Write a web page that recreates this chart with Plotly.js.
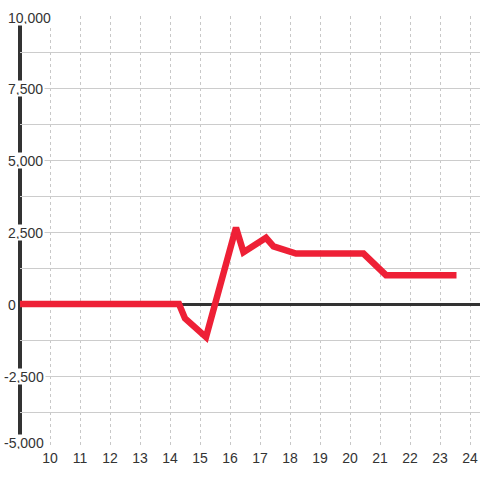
<!DOCTYPE html>
<html>
<head>
<meta charset="utf-8">
<script src="https://cdn.plot.ly/plotly-3.0.1.min.js"></script>
<style>
html,body{margin:0;padding:0;background:#fff;}
#chart{width:480px;height:480px;}
</style>
</head>
<body>
<div id="chart"></div>
<script>
// Data
var xValues = [9, 14.3, 14.5, 15.2, 16.2, 16.45, 17.2, 17.45, 18.2, 20.45, 21.2, 23.55];
var yValues = [0, 0, -500, -1150, 2650, 1800, 2300, 2000, 1750, 1750, 1000, 1000];
var xTicks = [10, 11, 12, 13, 14, 15, 16, 17, 18, 19, 20, 21, 22, 23, 24];
var yGrid = [-5000, -3750, -2500, -1250, 0, 1250, 2500, 3750, 5000, 6250, 7500, 8750, 10000];
var yLabelValues = [-5000, -2500, 0, 2500, 5000, 7500, 10000];
var yLabelTexts = ['-5,000', '-2,500', '0', '2,500', '5,000', '7,500', '10,000'];

var font = {family: 'Liberation Sans, Arial, sans-serif', size: 14, color: '#333'};

var annotations = yLabelValues.map(function (v, i) {
  return {
    xref: 'paper', yref: 'y', x: 0, y: v,
    text: yLabelTexts[i],
    showarrow: false,
    xanchor: 'left', yanchor: 'middle',
    xshift: v < 0 ? -18 : -14,
    yshift: v === -5000 ? 6 : (v === 10000 ? -1 : 0),
    bgcolor: '#ffffff',
    borderpad: 1,
    height: 13,
    font: font
  };
});

var trace = {
  x: xValues, y: yValues,
  type: 'scatter', mode: 'lines',
  line: {color: '#ee2036', width: 6.5},
  hoverinfo: 'skip'
};

var layout = {
  width: 480, height: 480,
  margin: {l: 20, r: 0, t: 16, b: 32, pad: 0},
  paper_bgcolor: '#ffffff',
  plot_bgcolor: '#ffffff',
  showlegend: false,
  font: font,
  xaxis: {
    range: [9, 24.3333],
    tickvals: xTicks,
    ticktext: xTicks.map(String),
    showgrid: true,
    gridcolor: '#c8c8c8',
    gridwidth: 1,
    griddash: 'dot',
    zeroline: false,
    showline: false,
    ticks: '',
    tickfont: font,
    fixedrange: true
  },
  yaxis: {
    range: [-5000, 10000],
    tickvals: yGrid,
    showticklabels: false,
    showgrid: true,
    gridcolor: '#cccccc',
    gridwidth: 1,
    zeroline: true,
    zerolinecolor: '#333333',
    zerolinewidth: 3,
    showline: false,
    ticks: '',
    fixedrange: true
  },
  shapes: [{
    type: 'line', xref: 'paper', yref: 'paper',
    x0: 0, x1: 0, y0: 0, y1: 1,
    line: {color: '#333333', width: 4},
    layer: 'below'
  }],
  annotations: annotations
};

Plotly.newPlot('chart', [trace], layout, {staticPlot: true, displayModeBar: false});
</script>
</body>
</html>
